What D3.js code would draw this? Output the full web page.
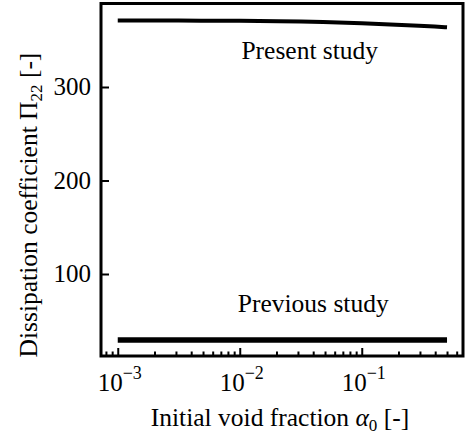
<!DOCTYPE html>
<html>
<head>
<meta charset="utf-8">
<script src="https://cdn.jsdelivr.net/npm/d3@7"></script>
<style>
  body { margin: 0; background: #fff; }
  svg text { font-family: "Liberation Serif", "Times New Roman", Times, serif; fill: #000; }
</style>
</head>
<body>
<div id="wrapper"></div>
<script>
// data
const voidFraction = [0.001, 0.002, 0.005, 0.01, 0.02, 0.05, 0.1, 0.2, 0.3, 0.4, 0.5];
const presentStudy = [371.2, 371.1, 371, 370.8, 370.5, 369.6, 368.4, 366.6, 365.4, 364.6, 363.9];
const previousStudy = [29.5, 29.5, 29.5, 29.5, 29.5, 29.5, 29.5, 29.5, 29.5, 29.5, 29.5];
const yTicks = [100, 200, 300];
const xMajorTicks = [1e-3, 1e-2, 1e-1];
const xMajorExponents = ["\u22123", "\u22122", "\u22121"];

const dimensions = {
    width: 465,
    height: 435,
    margin: { top: 3.5, right: 2, bottom: 79, left: 101 }
};
dimensions.boundedWidth = dimensions.width - dimensions.margin.left - dimensions.margin.right;
dimensions.boundedHeight = dimensions.height - dimensions.margin.top - dimensions.margin.bottom;

const svg = d3.select("#wrapper")
    .append("svg")
    .attr("width", dimensions.width)
    .attr("height", dimensions.height);

const bounds = svg.append("g")
    .attr("transform", `translate(${dimensions.margin.left},${dimensions.margin.top})`);

// scales
const xScale = d3.scaleLog()
    .domain([0.000729, 0.676])
    .range([0, dimensions.boundedWidth]);

const yScale = d3.scaleLinear()
    .domain([12.3, 389.3])
    .range([dimensions.boundedHeight, 0]);

// lines
const lineGen = values => d3.line()
    .x((d, i) => xScale(voidFraction[i]))
    .y(d => yScale(d))
    .curve(d3.curveBasis)(values);

bounds.append("path")
    .attr("d", lineGen(presentStudy))
    .attr("fill", "none")
    .attr("stroke", "#000")
    .attr("stroke-width", 4);

bounds.append("path")
    .attr("d", lineGen(previousStudy))
    .attr("fill", "none")
    .attr("stroke", "#000")
    .attr("stroke-width", 5.5);

// ticks (inward)
const minorTicks = [];
[1e-4, 1e-3, 1e-2, 1e-1].forEach(dec => {
    for (let k = 2; k <= 9; k++) {
        const v = k * dec;
        if (v > xScale.domain()[0] && v < xScale.domain()[1]) minorTicks.push(v);
    }
});

const xMinor = bounds.append("g")
    .attr("transform", `translate(0,${dimensions.boundedHeight})`)
    .call(d3.axisBottom(xScale).tickValues(minorTicks).tickSize(-4.5).tickFormat(""));
const xMajor = bounds.append("g")
    .attr("transform", `translate(0,${dimensions.boundedHeight})`)
    .call(d3.axisBottom(xScale).tickValues(xMajorTicks).tickSize(-8).tickFormat(""));
const yAxis = bounds.append("g")
    .call(d3.axisLeft(yScale).tickValues(yTicks).tickSize(-8).tickFormat(""));

[xMinor, xMajor, yAxis].forEach(a => {
    a.select(".domain").remove();
    a.selectAll(".tick line").attr("stroke", "#000").attr("stroke-width", 2);
});

// frame
bounds.append("rect")
    .attr("width", dimensions.boundedWidth)
    .attr("height", dimensions.boundedHeight)
    .attr("fill", "none")
    .attr("stroke", "#000")
    .attr("stroke-width", 3);

// tick labels
bounds.selectAll(".ylabel")
    .data(yTicks)
    .join("text")
    .attr("x", -10)
    .attr("y", d => yScale(d) + 8.5)
    .attr("text-anchor", "end")
    .style("font-size", "25px")
    .text(d => d);

const xLab = bounds.selectAll(".xlabel")
    .data(xMajorTicks)
    .join("text")
    .attr("x", d => xScale(d) + 2)
    .attr("y", dimensions.boundedHeight + 35)
    .attr("text-anchor", "middle")
    .style("font-size", "25px");
xLab.append("tspan").text("10");
xLab.append("tspan")
    .attr("dy", -12)
    .style("font-size", "18px")
    .text((d, i) => xMajorExponents[i]);

// annotations
bounds.append("text")
    .attr("x", xScale(0.0375))
    .attr("y", yScale(330))
    .attr("text-anchor", "middle")
    .style("font-size", "25.5px")
    .text("Present study");

bounds.append("text")
    .attr("x", xScale(0.0400))
    .attr("y", yScale(59))
    .attr("text-anchor", "middle")
    .style("font-size", "25.5px")
    .text("Previous study");

// axis titles
const xTitle = svg.append("text")
    .attr("x", 280)
    .attr("y", 426)
    .attr("text-anchor", "middle")
    .style("font-size", "25.5px");
xTitle.append("tspan").text("Initial void fraction ");
xTitle.append("tspan").style("font-style", "italic").text("\u03b1");
xTitle.append("tspan").attr("dy", 5).style("font-size", "17px").text("0");
xTitle.append("tspan").attr("dy", -5).text(" [-]");

const yTitle = svg.append("text")
    .attr("transform", "translate(37,205) rotate(-90)")
    .attr("text-anchor", "middle")
    .style("font-size", "25.5px");
yTitle.append("tspan").text("Dissipation coefficient \u03a0");
yTitle.append("tspan").attr("dy", 5).style("font-size", "17px").text("22");
yTitle.append("tspan").attr("dy", -5).text(" [-]");
</script>
</body>
</html>
